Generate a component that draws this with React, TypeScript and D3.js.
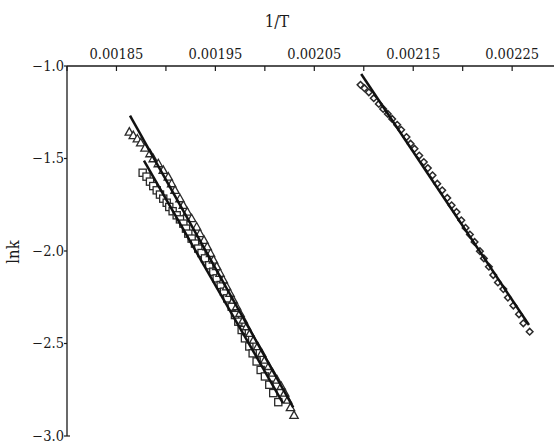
import React from "react";
import * as d3 from "d3";

// Arrhenius data: ln k against 1/T for three runs, each with its linear fit.
const triangleInvT = [
  0.0018630, 0.0018670, 0.0018711, 0.0018745, 0.0018788, 0.0018839, 0.0018872, 0.0018923,
  0.0018973, 0.0019024, 0.0019058, 0.0019092, 0.0019142, 0.0019176, 0.0019216, 0.0019260,
  0.0019311, 0.0019344, 0.0019385, 0.0019418, 0.0019451, 0.0019481, 0.0019513, 0.0019547,
  0.0019580, 0.0019614, 0.0019648, 0.0019681, 0.0019715, 0.0019749, 0.0019782, 0.0019816,
  0.0019850, 0.0019887, 0.0019928, 0.0019968, 0.0020001, 0.0020039, 0.0020079, 0.0020123,
  0.0020166, 0.0020201, 0.0020231, 0.0020259, 0.0020295,
];
const triangleLnK = [
  -1.357, -1.376, -1.394, -1.415, -1.444, -1.474, -1.501, -1.528,
  -1.564, -1.600, -1.636, -1.672, -1.717, -1.753, -1.789, -1.825,
  -1.870, -1.906, -1.942, -1.977, -2.013, -2.049, -2.084, -2.120,
  -2.156, -2.193, -2.229, -2.265, -2.301, -2.337, -2.373, -2.409,
  -2.445, -2.481, -2.516, -2.553, -2.589, -2.624, -2.660, -2.697,
  -2.732, -2.768, -2.806, -2.846, -2.888,
];

const squareInvT = [
  0.0018765, 0.0018804, 0.0018839, 0.0018872, 0.0018907, 0.0018940, 0.0018973, 0.0019008,
  0.0019034, 0.0019068, 0.0019109, 0.0019142, 0.0019176, 0.0019203, 0.0019226, 0.0019260,
  0.0019294, 0.0019327, 0.0019360, 0.0019395, 0.0019438, 0.0019479, 0.0019513, 0.0019554,
  0.0019587, 0.0019620, 0.0019665, 0.0019698, 0.0019732, 0.0019766, 0.0019799, 0.0019843,
  0.0019877, 0.0019917, 0.0019958, 0.0020001, 0.0020045, 0.0020085, 0.0020136,
];
const squareLnK = [
  -1.577, -1.598, -1.625, -1.649, -1.672, -1.695, -1.717, -1.739,
  -1.762, -1.785, -1.807, -1.829, -1.852, -1.879, -1.906, -1.933,
  -1.960, -1.987, -2.011, -2.040, -2.077, -2.112, -2.148, -2.184,
  -2.220, -2.256, -2.301, -2.346, -2.382, -2.427, -2.472, -2.516,
  -2.553, -2.597, -2.643, -2.678, -2.723, -2.768, -2.817,
];

const diamondInvT = [
  0.0020967, 0.0021007, 0.0021051, 0.0021101, 0.0021152, 0.0021196, 0.0021243, 0.0021287,
  0.0021338, 0.0021378, 0.0021432, 0.0021473, 0.0021513, 0.0021561, 0.0021607, 0.0021648,
  0.0021695, 0.0021743, 0.0021793, 0.0021844, 0.0021888, 0.0021938, 0.0021986, 0.0022029,
  0.0022073, 0.0022120, 0.0022174, 0.0022214, 0.0022265, 0.0022309, 0.0022356, 0.0022411,
  0.0022457, 0.0022512, 0.0022569, 0.0022613, 0.0022677,
];
const diamondLnK = [
  -1.102, -1.120, -1.142, -1.174, -1.205, -1.232, -1.259, -1.286,
  -1.318, -1.345, -1.384, -1.420, -1.447, -1.484, -1.519, -1.552,
  -1.591, -1.636, -1.672, -1.713, -1.753, -1.789, -1.834, -1.875,
  -1.911, -1.951, -2.001, -2.040, -2.085, -2.130, -2.170, -2.206,
  -2.252, -2.295, -2.342, -2.391, -2.436,
];

// Fitted lines, given by their end points [1/T, ln k].
const triangleFit = [[0.0018637, -1.268], [0.0020287, -2.845]];
const squareFit = [[0.0018778, -1.512], [0.0020183, -2.822]];
const diamondFit = [[0.0020974, -1.043], [0.0022670, -2.400]];

const xTicks = [0.0018, 0.00185, 0.0019, 0.00195, 0.002, 0.00205, 0.0021, 0.00215, 0.0022, 0.00225];
const xTickLabels = ["", "0.00185", "", "0.00195", "", "0.00205", "", "0.00215", "", "0.00225"];
const yTicks = [-1.0, -1.5, -2.0, -2.5, -3.0];

const W = 554;
const H = 443;
const left = 67;
const top = 66;
const bottom = 436;

const FONT = "DejaVu Serif Condensed, DejaVu Serif, serif";
const INK = "#1a1a1a";

export default function App() {
  const x = d3.scaleLinear().domain([0.0018, 0.0022913]).range([left, W - 1]);
  const y = d3.scaleLinear().domain([-1, -3]).range([top, bottom]);
  const line = d3
    .line<number[]>()
    .x((d) => x(d[0]))
    .y((d) => y(d[1]));

  const zip = (a: number[], b: number[]) => a.map((v, i) => [v, b[i]]);
  const tri = zip(triangleInvT, triangleLnK);
  const sq = zip(squareInvT, squareLnK);
  const dia = zip(diamondInvT, diamondLnK);

  const triPath = (cx: number, cy: number, r: number) =>
    `M${cx},${cy - r}L${cx + r * 0.95},${cy + r * 0.7}L${cx - r * 0.95},${cy + r * 0.7}Z`;
  const diaPath = (cx: number, cy: number, r: number) =>
    `M${cx},${cy - r}L${cx + r},${cy}L${cx},${cy + r}L${cx - r},${cy}Z`;

  const markerStyle = { fill: "white", stroke: "#2a2a2a", strokeWidth: 1.3 };
  const textStyle = { fontFamily: FONT, fontStretch: "condensed", fill: INK };

  return (
    <svg width={W} height={H} style={{ display: "block", position: "absolute", left: 0, top: 0 }}>
      <rect width={W} height={H} fill="white" />

      {/* axis titles */}
      <text x={277} y={27} textAnchor="middle" fontSize={16.5} style={textStyle}>
        1/T
      </text>
      <text
        transform={`translate(19,${252}) rotate(-90)`}
        textAnchor="middle"
        fontSize={16.5}
        style={textStyle}
      >
        lnk
      </text>

      {/* top x axis */}
      <line x1={left} x2={W} y1={top} y2={top} stroke={INK} strokeWidth={1.3} />
      {xTicks.map((t, i) => (
        <g key={t}>
          <line x1={x(t)} x2={x(t)} y1={top} y2={top + 5} stroke={INK} strokeWidth={1.2} />
          {xTickLabels[i] && (
            <text x={x(t)} y={top - 7} textAnchor="middle" fontSize={14.5} style={textStyle}>
              {xTickLabels[i]}
            </text>
          )}
        </g>
      ))}

      {/* left y axis */}
      <line x1={left} x2={left} y1={top} y2={bottom} stroke={INK} strokeWidth={1.3} />
      {yTicks.map((t) => (
        <g key={t}>
          <line x1={left - 3} x2={left} y1={y(t)} y2={y(t)} stroke={INK} strokeWidth={1.2} />
          <text
            x={left - 3}
            y={y(t)}
            dy="0.33em"
            textAnchor="end"
            fontSize={14.5}
            style={textStyle}
          >
            {d3.format(".1f")(t).replace("-", "\u2212")}
          </text>
        </g>
      ))}
      <line x1={left} x2={left + 3} y1={bottom} y2={bottom} stroke={INK} strokeWidth={1.2} />

      {/* markers */}
      {sq.map((d, i) => (
        <rect
          key={`s${i}`}
          x={x(d[0]) - 3.6}
          y={y(d[1]) - 3.6}
          width={7.2}
          height={7.2}
          {...markerStyle}
        />
      ))}
      {tri.map((d, i) => (
        <path key={`t${i}`} d={triPath(x(d[0]), y(d[1]), 4.4)} {...markerStyle} />
      ))}
      {dia.map((d, i) => (
        <path key={`d${i}`} d={diaPath(x(d[0]), y(d[1]), 3.3)} {...markerStyle} strokeWidth={1.5} />
      ))}

      {/* fitted lines */}
      {[triangleFit, squareFit, diamondFit].map((f, i) => (
        <path key={`f${i}`} d={line(f) ?? ""} fill="none" stroke="#111" strokeWidth={2.5} />
      ))}
    </svg>
  );
}
